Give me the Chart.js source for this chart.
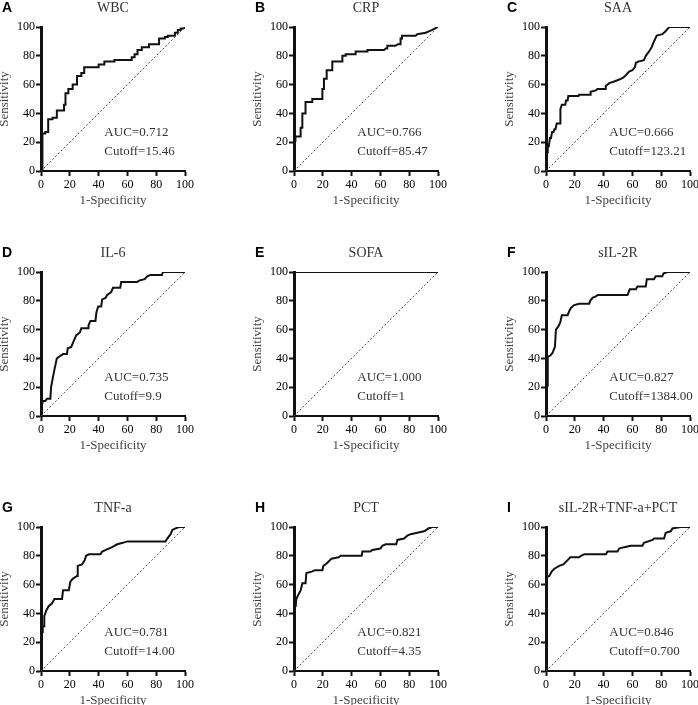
<!DOCTYPE html>
<html>
<head>
<meta charset="utf-8">
<script src="https://cdn.jsdelivr.net/npm/chart.js@4.4.1/dist/chart.umd.min.js"></script>
<style>
  body { margin: 0; background: #fff; width: 698px; height: 705px; overflow: hidden; position: relative; }
  canvas { position: absolute; }
</style>
</head>
<body>
<script>
// ROC points: [1-specificity, sensitivity]
const wbcRoc = [[0,0],[1,0],[1,26],[3,26],[3,27],[5,27],[5,36],[8,36],[8,37],[11,37],[11,42],[16,42],[16,46],[17,46],[17,54],[19,54],[19,57],[22,57],[22,60],[25,60],[25,66],[28,66],[28,68],[30,68],[30,72],[40,72],[40,74],[44,74],[44,76],[51,76],[51,77],[63,77],[63,79],[65,79],[65,81],[67,81],[67,84],[70,84],[70,86],[75,86],[75,88],[82,88],[82,92],[86,92],[86,93],[88,93],[88,94],[93,94],[93,96],[95,96],[95,98],[97,98],[97,99],[99,99],[100,100]]
const crpRoc = [[0,0],[0.5,0],[0.5,21],[1,21],[1,24],[4.6,24],[4.6,30],[5.8,30],[5.8,40],[8,40],[8,48],[12.7,48],[12.7,50],[19.7,50],[19.7,57],[20.8,57],[20.8,64],[22.7,64],[22.7,70],[26.6,70],[26.6,76],[33.6,76],[33.6,80],[35.9,80],[35.9,81],[42.8,81],[42.8,83],[51,83],[51,84],[62.5,84],[63.7,85],[64.8,85],[64.8,87],[70.6,87],[72,88],[74,88],[74,92],[75,92],[75,94],[84.5,94],[85.6,95],[91.4,96],[93.7,97],[96,98],[100,100]]
const saaRoc = [[0,0],[0,13],[1.2,13],[1.2,17],[1.9,17],[2.8,23],[3.5,23],[4.2,27],[5.2,27],[5.8,29],[6.6,29],[7.4,33],[10,33],[10,43],[11,46],[13.4,46],[13.9,49],[15,49],[15.5,52],[22.6,52],[23,53],[30.7,53],[31,55],[34.6,56],[35.8,57],[41,57],[41.5,59],[43.9,61],[46.9,62],[49.6,63],[52,64],[53.8,65],[55.9,67],[57.7,69],[60,70],[61.7,72],[62.4,75],[64,76],[68,77],[69.3,80],[71.6,83],[73.4,86],[75,90],[76.9,94],[80.8,95],[83,97],[85.5,100],[100,100]]
const il6Roc = [[0,0],[0,9],[1,9],[1,10.5],[3,10.5],[4.2,12],[6.5,12],[7,20],[8.1,26],[9.3,32],[11,40],[12.3,41],[15.3,43],[18,43],[18.6,47],[21,48],[22.7,52],[24.4,56],[27,58],[28,61],[32.7,61],[33,63],[34.3,66],[37.8,66],[38.5,72],[39.7,76],[41.8,76],[42.5,81],[44.8,82],[46,84],[48.7,86],[50,89],[55,89],[55.7,93],[66.8,93],[68,94],[72,95],[73.8,97],[76,98],[84,98],[84.7,100],[100,100]]
const sofaRoc = [[0,0],[0,100],[100,100]]
const sil2rRoc = [[0,0],[0.5,0],[0.5,21],[1.2,21],[1.2,41],[3,42],[4.6,44],[6.2,48],[6.9,60],[8.5,62],[9.9,65],[11,70],[15,70],[16.2,73],[17.3,75],[19.6,77],[23,78],[30,78],[30.7,80],[32.3,82],[34.6,83],[35.8,84],[56.6,84],[58.2,88],[62.4,88],[63.5,90],[69.3,90],[70,95],[75,95],[76.2,97],[80.8,97],[81.5,99],[84.3,100],[100,100]]
const tnfRoc = [[0,0],[0,27],[1.2,27],[1.2,31],[2.3,31],[2.3,38],[3.7,42],[5.3,45],[7.7,47],[9.3,50],[14.6,50],[15.3,56],[19.3,56],[20.4,62],[22,64],[25,66],[25.5,73],[28.5,74],[30.4,77],[31.3,80],[33.2,81],[41.3,81],[42.5,83],[47,85],[49.4,86],[52.9,88],[56.8,89],[60,90],[86.5,90],[87.7,92],[90,95],[91.2,98],[93.5,99],[95.8,100],[100,100]]
const pctRoc = [[0,0],[0,44],[1.2,45],[1.6,50],[3,53],[4.6,56],[5.8,61],[8,61],[8.6,68],[12.3,69],[14.6,70],[19.7,70],[20.4,73],[23,75],[26,78],[31,79],[32.4,80],[47,80],[47.5,83],[53,83],[54.4,84],[60,85],[61.3,87],[63.7,88],[71,88],[71.8,91],[76.4,92],[78.7,94],[81,95],[85.6,96],[90.3,97],[92,98],[93.3,99],[96,100],[100,100]]
const comboRoc = [[0,0],[0,65],[2.3,66],[3.9,69],[5.8,71],[9.2,73],[12,74],[15,77],[16.9,79],[23,79],[24.2,80],[26.6,81],[41.6,81],[42.7,83],[49.7,83],[50.8,85],[54.3,86],[58.9,87],[67,87],[68,89],[74,91],[75,92],[82,92],[83.1,96],[86.6,97],[87.8,99],[93.5,100],[100,100]]
const refLine = [[0,0],[100,100]]

const panelLetters = ['A', 'B', 'C', 'D', 'E', 'F', 'G', 'H', 'I']
const panelTitles = ['WBC', 'CRP', 'SAA', 'IL-6', 'SOFA', 'sIL-2R', 'TNF-a', 'PCT', 'sIL-2R+TNF-a+PCT']
const aucLabels = ['AUC=0.712', 'AUC=0.766', 'AUC=0.666', 'AUC=0.735', 'AUC=1.000', 'AUC=0.827', 'AUC=0.781', 'AUC=0.821', 'AUC=0.846']
const cutoffLabels = ['Cutoff=15.46', 'Cutoff=85.47', 'Cutoff=123.21', 'Cutoff=9.9', 'Cutoff=1', 'Cutoff=1384.00', 'Cutoff=14.00', 'Cutoff=4.35', 'Cutoff=0.700']
const rocCurves = [wbcRoc, crpRoc, saaRoc, il6Roc, sofaRoc, sil2rRoc, tnfRoc, pctRoc, comboRoc]
const tickValues = [0, 20, 40, 60, 80, 100]

// panel placement on the page
const colLeft = [0, 253, 505]
const rowTop = [0, 245, 500]

Chart.defaults.font.family = '"Liberation Serif", "DejaVu Serif", serif'

const panelTextPlugin = {
  id: 'panelText',
  afterDraw: (chart, args, opts) => {
    const { ctx, chartArea, scales } = chart
    const midY = chartArea.top - 19
    ctx.save()
    ctx.textBaseline = 'middle'
    ctx.fillStyle = '#333'
    ctx.font = '14px "Liberation Serif"'
    ctx.textAlign = 'center'
    ctx.fillText(opts.title, (chartArea.left + chartArea.right) / 2, midY)
    ctx.fillStyle = '#000'
    ctx.font = 'bold 14px "Liberation Sans"'
    ctx.textAlign = 'left'
    ctx.fillText(opts.letter, chartArea.left - 39, midY)
    ctx.fillStyle = '#333'
    ctx.font = '13px "Liberation Serif"'
    const tx = scales.x.getPixelForValue(44)
    ctx.fillText(opts.auc, tx, scales.y.getPixelForValue(26.5))
    ctx.fillText(opts.cutoff, tx, scales.y.getPixelForValue(13.3))
    ctx.restore()
  },
}

const axisCommon = (titleText) => ({
  type: 'linear',
  min: 0,
  max: 100,
  afterBuildTicks: (scale) => {
    scale.ticks = tickValues.map((v) => ({ value: v }))
  },
  grid: { drawOnChartArea: false, tickLength: 5, tickWidth: 2, tickColor: '#111' },
  ticks: { color: '#000', font: { size: 12 }, maxRotation: 0 },
  title: { display: true, text: titleText, color: '#444', font: { size: 13 } },
})

rocCurves.forEach((roc, i) => {
  const canvas = document.createElement('canvas')
  canvas.width = 200
  canvas.height = 211
  canvas.style.left = colLeft[i % 3] + 'px'
  canvas.style.top = rowTop[Math.floor(i / 3)] + 'px'
  document.body.appendChild(canvas)

  const xAxis = axisCommon('1-Specificity')
  xAxis.afterFit = (scale) => { scale.height = 40 }
  xAxis.border = { color: '#111', width: 2 }
  xAxis.ticks.padding = 2
  xAxis.title.padding = { top: 0, bottom: 3 }

  const yAxis = axisCommon('Sensitivity')
  yAxis.afterFit = (scale) => { scale.width = 41 }
  yAxis.border = { color: '#111', width: 3 }
  yAxis.ticks.padding = 1
  yAxis.title.padding = { top: -3, bottom: 0 }

  new Chart(canvas, {
    type: 'line',
    data: {
      datasets: [
        {
          data: refLine.map(([x, y]) => ({ x, y })),
          borderColor: '#555',
          borderWidth: 1,
          borderDash: [2, 2],
          pointRadius: 0,
        },
        {
          data: roc.map(([x, y]) => ({ x, y })),
          borderColor: '#111',
          borderWidth: 2,
          pointRadius: 0,
          tension: 0,
        },
      ],
    },
    options: {
      responsive: false,
      animation: false,
      devicePixelRatio: 1,
      layout: { padding: { top: 27, right: 15, left: 0, bottom: 0 } },
      plugins: {
        legend: { display: false },
        tooltip: { enabled: false },
        panelText: {
          title: panelTitles[i],
          letter: panelLetters[i],
          auc: aucLabels[i],
          cutoff: cutoffLabels[i],
        },
      },
      scales: { x: xAxis, y: yAxis },
    },
    plugins: [panelTextPlugin],
  })
})
</script>
</body>
</html>
